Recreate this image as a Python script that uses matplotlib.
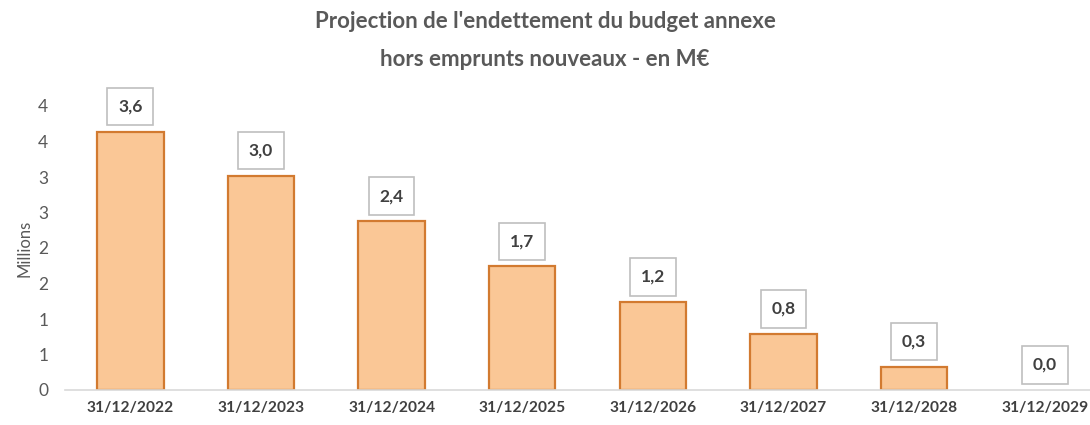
import matplotlib
matplotlib.use("Agg")
import matplotlib.pyplot as plt

categories = ["31/12/2022", "31/12/2023", "31/12/2024", "31/12/2025",
              "31/12/2026", "31/12/2027", "31/12/2028", "31/12/2029"]
values = [3.64, 3.02, 2.38, 1.74, 1.24, 0.79, 0.33, 0.0]
value_labels = ["3,6", "3,0", "2,4", "1,7", "1,2", "0,8", "0,3", "0,0"]
y_ticks = [0, 0.5, 1, 1.5, 2, 2.5, 3, 3.5, 4]
y_tick_labels = ["0", "1", "1", "2", "2", "3", "3", "4", "4"]

plt.rcParams['font.family'] = ['Lato', 'DejaVu Sans']

fig = plt.figure(figsize=(10.9, 4.25), dpi=100)
ax = fig.add_axes([65/1090, 35/425, (1110-65)/1090, (390-106)/425])

x = range(len(categories))
ax.bar(x, values, width=0.51, color='#FAC796',
       edgecolor=['#D27A30' if v > 0 else 'none' for v in values],
       linewidth=1.6, zorder=2)

for xi, v, lab in zip(x, values, value_labels):
    ax.annotate(lab, (xi, v), xytext=(0, 18), textcoords='offset points',
                ha='center', va='center', fontsize=12.5, fontweight='bold', color='#404040',
                bbox=dict(boxstyle='square,pad=0.62', fc='white', ec='#BFBFBF', lw=1.2),
                annotation_clip=False)

ax.set_xlim(-0.5, len(categories) - 0.5)
ax.set_ylim(0, 4)
ax.set_yticks(y_ticks)
ax.set_yticklabels(y_tick_labels, fontsize=12.5, color='#595959')
ax.set_xticks(list(x))
ax.set_xticklabels(categories, fontsize=11.2, fontweight='bold', color='#404040')
ax.tick_params(axis='both', length=0)
ax.tick_params(axis='y', pad=12)
ax.tick_params(axis='x', pad=8)
for s in ['top', 'right', 'left']:
    ax.spines[s].set_visible(False)
ax.spines['bottom'].set_color('#D9D9D9')
ax.spines['bottom'].set_linewidth(1.2)
ax.set_ylabel('Millions', fontsize=12, color='#595959', labelpad=4)

fig.text(545/1090, 1 - 22/425, "Projection de l'endettement du budget annexe",
         ha='center', va='center', fontsize=16, fontweight='bold', color='#595959')
fig.text(545/1090, 1 - 60/425, "hors emprunts nouveaux - en M€",
         ha='center', va='center', fontsize=16, fontweight='bold', color='#595959')

fig.savefig('out.png', dpi=100)
